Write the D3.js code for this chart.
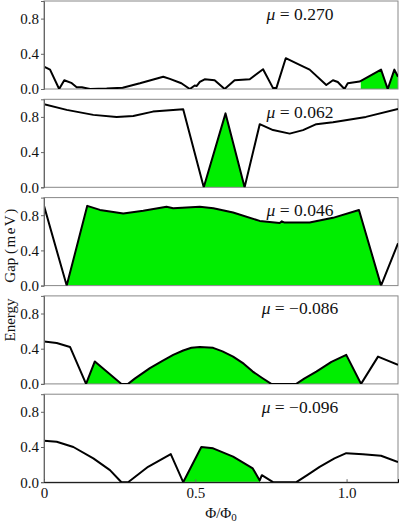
<!DOCTYPE html>
<html>
<head>
<meta charset="utf-8">
<script src="https://cdn.jsdelivr.net/npm/d3@7"></script>
<style>
  html, body { margin: 0; padding: 0; background: #fff; }
  svg { display: block; }
  text { font-family: "Liberation Serif", "Times New Roman", serif; fill: #111; }
</style>
</head>
<body>
<svg id="chart" width="399" height="525"></svg>
<script>
// ---------------- data ----------------
const muLabels = ["0.270", "0.062", "0.046", "\u22120.086", "\u22120.096"];

const phi1 = [0, 0.02, 0.05, 0.067, 0.09, 0.108, 0.125, 0.152, 0.207, 0.26, 0.317, 0.394, 0.416, 0.454, 0.482, 0.498, 0.505, 0.515, 0.531, 0.564, 0.597, 0.63, 0.68, 0.724, 0.757, 0.768, 0.799, 0.845, 0.878, 0.933, 0.955, 0.971, 0.993, 1.004, 1.043, 1.114, 1.136, 1.158, 1.17];
const gap1 = [0.255, 0.22, 0.0, 0.10, 0.07, 0.02, 0.02, 0.0, 0.005, 0.015, 0.065, 0.14, 0.115, 0.065, 0.0, 0.04, 0.035, 0.08, 0.11, 0.10, 0.0, 0.10, 0.11, 0.225, 0.01, 0.01, 0.35, 0.275, 0.22, 0.045, 0.10, 0.08, 0.0, 0.065, 0.085, 0.22, 0.0, 0.22, 0.14];
const fill1 = [[1.047, 1.17]];

const phi2 = [0, 0.075, 0.163, 0.24, 0.295, 0.36, 0.46, 0.528, 0.60, 0.663, 0.713, 0.757, 0.812, 0.856, 0.90, 0.955, 1.064, 1.17];
const gap2 = [0.945, 0.88, 0.823, 0.80, 0.81, 0.86, 0.888, 0.0, 0.84, 0.0, 0.717, 0.65, 0.61, 0.65, 0.717, 0.74, 0.80, 0.89];
const fill2 = [[0.528, 0.663]];

const phi3 = [0, 0.075, 0.143, 0.185, 0.262, 0.328, 0.405, 0.427, 0.515, 0.56, 0.625, 0.713, 0.779, 0.786, 0.795, 0.878, 0.955, 1.041, 1.114, 1.17];
const gap3 = [0.906, 0.0, 0.906, 0.86, 0.82, 0.85, 0.895, 0.88, 0.895, 0.88, 0.83, 0.735, 0.712, 0.73, 0.716, 0.716, 0.77, 0.86, 0.0, 0.48];
const fill3 = [[0.075, 1.114]];

const phi4 = [0, 0.042, 0.086, 0.139, 0.168, 0.256, 0.278, 0.30, 0.35, 0.39, 0.427, 0.46, 0.487, 0.515, 0.559, 0.59, 0.625, 0.66, 0.69, 0.72, 0.751, 0.834, 0.86, 0.90, 0.95, 0.999, 1.048, 1.104, 1.17];
const gap4 = [0.483, 0.465, 0.42, 0.0, 0.255, 0.0, 0.0, 0.06, 0.18, 0.26, 0.33, 0.38, 0.41, 0.42, 0.41, 0.37, 0.31, 0.23, 0.14, 0.07, 0.0, 0.0, 0.06, 0.14, 0.25, 0.33, 0.0, 0.31, 0.217];
const fill4 = [[0.139, 0.256], [0.278, 0.751], [0.834, 1.048]];

const phi5 = [0, 0.042, 0.097, 0.163, 0.218, 0.256, 0.278, 0.344, 0.419, 0.46, 0.52, 0.559, 0.625, 0.69, 0.713, 0.72, 0.757, 0.834, 0.87, 0.911, 0.96, 0.999, 1.054, 1.114, 1.17];
const gap5 = [0.472, 0.46, 0.40, 0.27, 0.137, 0.0, 0.0, 0.175, 0.32, 0.0, 0.40, 0.385, 0.29, 0.156, 0.02, 0.08, 0.0, 0.0, 0.08, 0.175, 0.27, 0.33, 0.317, 0.30, 0.23];
const fill5 = [[0.46, 0.714]];

const yTicks = [0, 0.4, 0.8];
const yTickLabels = ["0.0", "0.4", "0.8"];
const xTicks = [0, 0.5, 1.0];
const xTickLabels = ["0", "0.5", "1.0"];

const panels = [
  {phi: phi1, gap: gap1, fill: fill1},
  {phi: phi2, gap: gap2, fill: fill2},
  {phi: phi3, gap: gap3, fill: fill3},
  {phi: phi4, gap: gap4, fill: fill4},
  {phi: phi5, gap: gap5, fill: fill5}
];

// ---------------- layout ----------------
const svg = d3.select("#chart");
const left = 44, right = 398;
const panelH = 88, step = 98.3, top0 = 1;
const green = "#00ee00";
const serif = "'Liberation Serif', 'Times New Roman', serif";

const x = d3.scaleLinear().domain([0, 1.17]).range([left, right]);

panels.forEach((p, k) => {
  const top = top0 + k * step;
  const bottom = top + panelH;
  const y = d3.scaleLinear().domain([0, 1]).range([bottom, top]);
  const pts = p.phi.map((v, i) => [v, p.gap[i]]);
  const g = svg.append("g");

  const clipId = "clip" + k;
  svg.append("clipPath").attr("id", clipId)
    .append("rect").attr("x", left).attr("y", top).attr("width", right - left).attr("height", panelH);

  // green fills over intervals
  p.fill.forEach((iv, j) => {
    const fid = "fill" + k + "_" + j;
    svg.append("clipPath").attr("id", fid)
      .append("rect")
      .attr("x", x(iv[0])).attr("y", top)
      .attr("width", x(iv[1]) - x(iv[0])).attr("height", panelH);
    g.append("path")
      .datum(pts)
      .attr("clip-path", "url(#" + fid + ")")
      .attr("fill", green)
      .attr("d", d3.area().x(d => x(d[0])).y0(y(0)).y1(d => y(d[1])));
  });

  // frame
  g.append("rect")
    .attr("x", left).attr("y", top).attr("width", right - left).attr("height", panelH)
    .attr("fill", "none").attr("stroke", "#888").attr("stroke-width", 1);

  // curve
  g.append("path")
    .datum(pts)
    .attr("clip-path", "url(#" + clipId + ")")
    .attr("fill", "none").attr("stroke", "#000").attr("stroke-width", 2)
    .attr("stroke-linejoin", "round")
    .attr("d", d3.line().x(d => x(d[0])).y(d => y(d[1])));

  // y axis
  const yAxis = d3.axisLeft(y).tickValues(yTicks)
    .tickFormat((d, i) => yTickLabels[i]).tickSize(3).tickPadding(2);
  const ga = g.append("g").attr("transform", `translate(${left},0)`).call(yAxis);
  ga.attr("font-family", null);
  ga.select(".domain").attr("stroke", "#666");
  ga.selectAll(".tick line").attr("stroke", "#666");
  ga.selectAll("text").style("font-family", serif).style("font-size", "15px").attr("fill", "#222");

  // mu label
  const t = g.append("text").attr("x", 300).attr("y", top + 18.5)
    .attr("text-anchor", "middle").style("font-size", "17.5px");
  t.append("tspan").style("font-style", "italic").text("\u03bc");
  t.append("tspan").text(" = " + muLabels[k]);

  if (k === panels.length - 1) {
    const xAxis = d3.axisBottom(x).tickValues(xTicks)
      .tickFormat((d, i) => xTickLabels[i]).tickSize(-3).tickPadding(5);
    const gx = g.append("g").attr("transform", `translate(0,${bottom})`).call(xAxis);
    gx.attr("font-family", null);
    gx.select(".domain").attr("stroke", "#000");
    gx.selectAll(".tick line").attr("stroke", "#666");
    gx.selectAll("text").style("font-family", serif).style("font-size", "15px").attr("fill", "#222");
  }
});

// axis titles
const gt = svg.append("text").attr("transform", "translate(15,245) rotate(-90)")
  .attr("text-anchor", "middle").style("font-size", "15px");
gt.append("tspan").text("Gap  ");
gt.append("tspan").style("letter-spacing", "1.5px").text("(meV)");
svg.append("text").attr("transform", "translate(15,320) rotate(-90)")
  .attr("text-anchor", "middle").style("font-size", "15px").text("Energy");

const xl = svg.append("text").attr("x", 221).attr("y", 518).attr("text-anchor", "middle").style("font-size", "15px");
xl.append("tspan").text("\u03a6/\u03a6");
xl.append("tspan").attr("dy", 3).style("font-size", "11px").text("0");
</script>
</body>
</html>
